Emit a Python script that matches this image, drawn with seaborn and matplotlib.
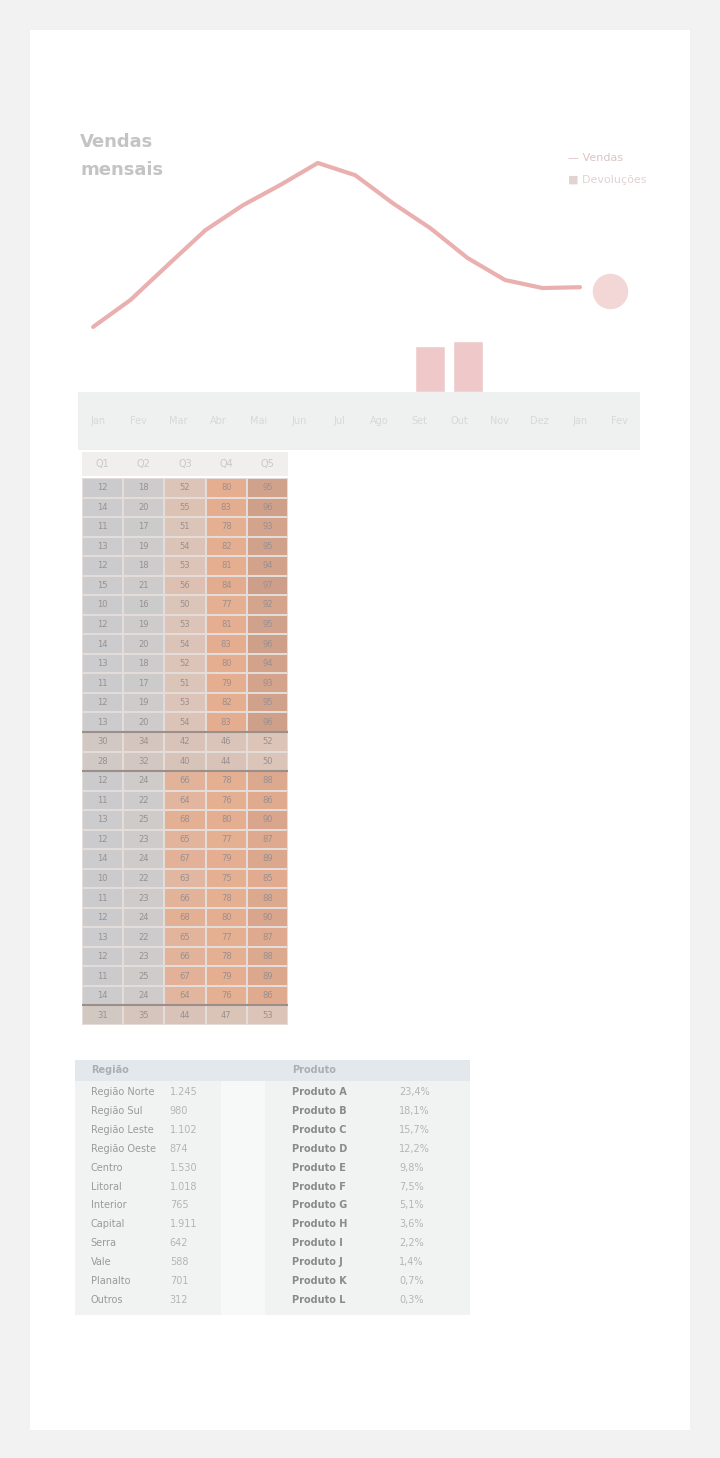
import numpy as np
import pandas as pd
import matplotlib
matplotlib.use('Agg')
import matplotlib.pyplot as plt
import seaborn as sns
from matplotlib.colors import LinearSegmentedColormap
from matplotlib.patches import Rectangle

# Dados
meses = ['Jan', 'Fev', 'Mar', 'Abr', 'Mai', 'Jun', 'Jul', 'Ago', 'Set', 'Out', 'Nov', 'Dez', 'Jan', 'Fev']
vendas = [15.4, 21.8, 30.1, 38.3, 44.2, 49.0, 54.2, 51.3, 44.7, 38.8, 31.7, 26.5, 24.6, 24.8]
devolucoes = [0, 0, 0, 0, 0, 0, 0, 0, 0, 11, 12, 0, 0, 0]
ultimo_valor = 24.0

linhas_tabela = ['A01', 'A02', 'A03', 'A04', 'A05', 'A06', 'A07', 'A08', 'A09', 'A10', 'A11', 'A12', 'A13',
                 'Total', 'Média', 'B01', 'B02', 'B03', 'B04', 'B05', 'B06', 'B07', 'B08', 'B09', 'B10',
                 'B11', 'B12', 'Total']
colunas_tabela = ['Q1', 'Q2', 'Q3', 'Q4', 'Q5']
col_q1 = [12, 14, 11, 13, 12, 15, 10, 12, 14, 13, 11, 12, 13, 30, 28, 12, 11, 13, 12, 14, 10, 11, 12, 13, 12, 11, 14, 31]
col_q2 = [18, 20, 17, 19, 18, 21, 16, 19, 20, 18, 17, 19, 20, 34, 32, 24, 22, 25, 23, 24, 22, 23, 24, 22, 23, 25, 24, 35]
col_q3 = [52, 55, 51, 54, 53, 56, 50, 53, 54, 52, 51, 53, 54, 42, 40, 66, 64, 68, 65, 67, 63, 66, 68, 65, 66, 67, 64, 44]
col_q4 = [80, 83, 78, 82, 81, 84, 77, 81, 83, 80, 79, 82, 83, 46, 44, 78, 76, 80, 77, 79, 75, 78, 80, 77, 78, 79, 76, 47]
col_q5 = [95, 96, 93, 95, 94, 97, 92, 95, 96, 94, 93, 95, 96, 52, 50, 88, 86, 90, 87, 89, 85, 88, 90, 87, 88, 89, 86, 53]

resumo_esq = ['Região Norte', 'Região Sul', 'Região Leste', 'Região Oeste', 'Centro', 'Litoral',
              'Interior', 'Capital', 'Serra', 'Vale', 'Planalto', 'Outros']
resumo_val_esq = ['1.245', '980', '1.102', '874', '1.530', '1.018', '765', '1.911', '642', '588', '701', '312']
resumo_dir = ['Produto A', 'Produto B', 'Produto C', 'Produto D', 'Produto E', 'Produto F',
              'Produto G', 'Produto H', 'Produto I', 'Produto J', 'Produto K', 'Produto L']
resumo_val_dir = ['23,4%', '18,1%', '15,7%', '12,2%', '9,8%', '7,5%', '5,1%', '3,6%', '2,2%', '1,4%', '0,7%', '0,3%']

W, H = 720, 1458


def caixa(x0, y0, x1, y1):
    return [x0 / W, 1 - y1 / H, (x1 - x0) / W, (y1 - y0) / H]


sns.set_theme(style='white')
plt.rcParams['font.family'] = ['DejaVu Sans']

fig = plt.figure(figsize=(W / 100, H / 100), dpi=100, facecolor='#f2f2f2')
fig.add_artist(Rectangle((30 / W, 1 - 1430 / H), 660 / W, 1400 / H,
                         transform=fig.transFigure, facecolor='white', edgecolor='none', zorder=-5))

# Titulo e legenda
fig.text(80 / W, 1 - 142 / H, 'Vendas', fontsize=13, fontweight='bold', color='#c4c4c4', va='center')
fig.text(80 / W, 1 - 170 / H, 'mensais', fontsize=13, fontweight='bold', color='#c4c4c4', va='center')
fig.text(568 / W, 1 - 158 / H, '— Vendas', fontsize=8, color='#dcc4c4', va='center')
fig.text(568 / W, 1 - 180 / H, '■ Devoluções', fontsize=8, color='#e3d2d2', va='center')

# Grafico de linha
ax1 = fig.add_axes(caixa(80, 130, 650, 392))
ax1.patch.set_alpha(0)
x = np.arange(len(meses))
ax1.bar(x, devolucoes, color='#efc9c9', width=0.8)
sns.lineplot(x=x, y=vendas, ax=ax1, color='#eab0b0', linewidth=3)
ax1.scatter([len(meses) - 0.2], [ultimo_valor], s=600, color='#f3d6d6', zorder=3)
ax1.set_xlim(-0.35, len(meses) + 0.87)
ax1.set_ylim(0, 62)
ax1.set_xticks([])
ax1.set_yticks([])
sns.despine(ax=ax1, left=True, bottom=True)

# Faixa de rotulos
ax_f = fig.add_axes(caixa(78, 392, 640, 450))
ax_f.set_facecolor('#eff1f1')
for i, m in enumerate(meses):
    ax_f.text((i + 0.5) / len(meses), 0.5, m, ha='center', va='center', fontsize=7, color='#d6d9d9')
ax_f.set_xticks([])
ax_f.set_yticks([])
for s in ax_f.spines.values():
    s.set_visible(False)

# Cabecalho do heatmap
ax_h = fig.add_axes(caixa(82, 452, 288, 476))
ax_h.set_facecolor('#f0efee')
for i, c in enumerate(colunas_tabela):
    ax_h.text((i + 0.5) / len(colunas_tabela), 0.5, c, ha='center', va='center', fontsize=7, color='#c8c8c8')
ax_h.set_xticks([])
ax_h.set_yticks([])
for s in ax_h.spines.values():
    s.set_visible(False)

# Heatmap tabela
df = pd.DataFrame({'Q1': col_q1, 'Q2': col_q2, 'Q3': col_q3, 'Q4': col_q4, 'Q5': col_q5}, index=linhas_tabela)
cmap = LinearSegmentedColormap.from_list('cinza_laranja',
                                         ['#cbcbce', '#cecbca', '#d8c3b8', '#dcc4b8', '#e4b094', '#e6ae90', '#cd9f8a'])
ax2 = fig.add_axes(caixa(82, 478, 288, 1025))
sns.heatmap(df, ax=ax2, cmap=cmap, vmin=10, vmax=97, cbar=False, annot=True, fmt='d',
            annot_kws={'fontsize': 6, 'color': '#9a9090'}, linewidths=0.3, linecolor='#e4dcd8')
ax2.axhline(13, color='#9a8f8a', lw=1.5)
ax2.axhline(15, color='#9a8f8a', lw=1.5)
ax2.axhline(27, color='#9a8f8a', lw=1.5)
ax2.set_xticks([])
ax2.set_yticks([])
ax2.set_xlabel('')
ax2.set_ylabel('')

# Tabela resumo
ax3 = fig.add_axes(caixa(75, 1060, 470, 1315))
ax3.set_xlim(0, 1)
ax3.set_ylim(len(resumo_esq) + 1.5, 0)
ax3.add_patch(Rectangle((0, 0), 1, 1.1, facecolor='#e3e8ec', edgecolor='none'))
ax3.add_patch(Rectangle((0, 1.1), 1, len(resumo_esq) + 0.4, facecolor='#f1f2f2', edgecolor='none'))
ax3.add_patch(Rectangle((0.37, 1.1), 0.11, len(resumo_esq) + 0.4, facecolor='#f7f8f8', edgecolor='none'))
ax3.text(0.04, 0.55, 'Região', fontsize=7, fontweight='bold', color='#a9afb5', va='center')
ax3.text(0.55, 0.55, 'Produto', fontsize=7, fontweight='bold', color='#a9afb5', va='center')
for i in range(len(resumo_esq)):
    yy = i + 1.7
    ax3.text(0.04, yy, resumo_esq[i], fontsize=7, color='#9a9a9a', va='center')
    ax3.text(0.24, yy, resumo_val_esq[i], fontsize=7, color='#b5b5b5', va='center')
    ax3.text(0.55, yy, resumo_dir[i], fontsize=7, color='#8a8a8a', va='center', fontweight='bold')
    ax3.text(0.82, yy, resumo_val_dir[i], fontsize=7, color='#b5b5b5', va='center')
ax3.set_xticks([])
ax3.set_yticks([])
for s in ax3.spines.values():
    s.set_visible(False)

fig.savefig('out.png', dpi=100, facecolor=fig.get_facecolor())
